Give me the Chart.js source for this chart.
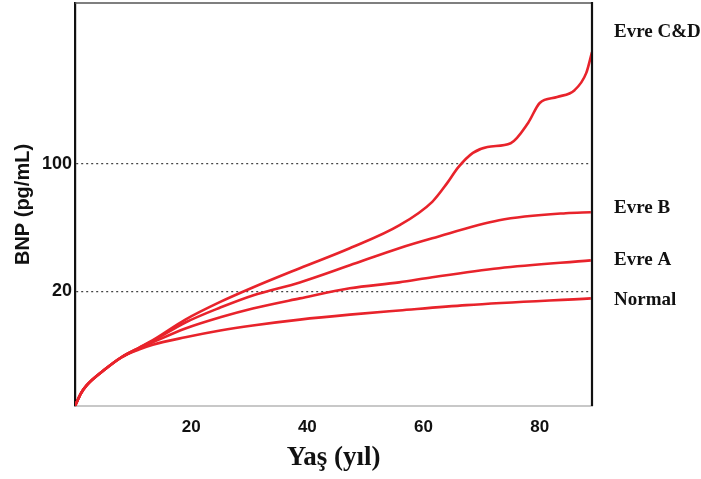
<!DOCTYPE html>
<html>
<head>
<meta charset="utf-8">
<title>BNP - Yaş</title>
<script src="https://cdn.jsdelivr.net/npm/chart.js@4/dist/chart.umd.min.js"></script>
<style>
    html, body { margin: 0; padding: 0; background: #fff; }
    #wrap { width: 701px; height: 479px; position: relative; }
</style>
</head>
<body>
<div id="wrap"><canvas id="bnpChart"></canvas></div>
<script>
// values (age in years, BNP in pg/mL, log axis)
var seriesNames = ['Normal', 'Evre A', 'Evre B', 'Evre C&D'];

var ageNormal = [0, 1, 2, 5, 8, 11, 13.4, 19, 25, 30.6, 38.7, 47.3, 55.8, 67.4, 88.8];
var bnpNormal = [4.7, 5.5, 6.1, 7.4, 8.7, 9.6, 10.2, 11.2, 12.2, 13.0, 14.0, 14.9, 15.7, 16.8, 18.3];

var ageA = [0, 1, 2, 5, 8, 11, 13.4, 19, 25, 30.6, 38.7, 47.3, 55.8, 61.5, 73, 88.8];
var bnpA = [4.7, 5.5, 6.1, 7.4, 8.7, 9.7, 10.5, 12.5, 14.4, 16.1, 18.3, 20.8, 22.4, 23.9, 26.8, 29.6];

var ageB = [0, 1, 2, 5, 8, 11, 13.4, 19, 25, 30.6, 38.7, 47.3, 55.8, 61.5, 73, 84.5, 88.8];
var bnpB = [4.7, 5.5, 6.1, 7.4, 8.7, 9.8, 10.7, 13.5, 16.3, 19.0, 22.4, 27.8, 34.5, 39.1, 49.1, 53.7, 54.3];

var ageCD = [0, 1, 2, 5, 8, 11, 13.4, 19, 25, 30.6, 38.7, 47.3, 55.8, 61.5, 64, 66, 68.5, 71, 75, 78, 80, 83, 86, 88, 89];
var bnpCD = [4.7, 5.5, 6.1, 7.4, 8.7, 9.8, 10.8, 14.0, 17.5, 21.0, 26.8, 34.5, 46, 62, 78, 96, 115, 124, 130, 168, 216, 233, 254, 315, 411];

var xTicks = [20, 40, 60, 80];
var yTicks = [20, 100];

function toPoints(ages, vals) {
    return ages.map(function (a, i) { return { x: a, y: vals[i] }; });
}

var lineRed = '#e8232b';

function makeSet(name, ages, vals) {
    return {
        label: name,
        data: toPoints(ages, vals),
        borderColor: lineRed,
        backgroundColor: lineRed,
        borderWidth: 2.6,
        pointRadius: 0,
        cubicInterpolationMode: 'monotone',
        fill: false
    };
}

// right and top frame of the plot
var frame = {
    id: 'frame',
    afterDraw: function (chart) {
        var ctx = chart.ctx, a = chart.chartArea;
        ctx.save();
        ctx.strokeStyle = '#555';
        ctx.lineWidth = 1.5;
        ctx.beginPath();
        ctx.moveTo(a.left, a.top);
        ctx.lineTo(a.right, a.top);
        ctx.stroke();
        ctx.strokeStyle = '#111';
        ctx.lineWidth = 2.2;
        ctx.beginPath();
        ctx.moveTo(a.right, a.top - 1);
        ctx.lineTo(a.right, a.bottom);
        ctx.stroke();
        ctx.restore();
    }
};

// names written to the right of each curve's end
var endLabels = {
    id: 'endLabels',
    afterDraw: function (chart) {
        var ctx = chart.ctx, a = chart.chartArea;
        var yScale = chart.scales.y;
        var shift = { 'Normal': 2, 'Evre A': 0, 'Evre B': -4, 'Evre C&D': -20 };
        ctx.save();
        ctx.font = 'bold 19px "Liberation Serif", "DejaVu Serif", serif';
        ctx.fillStyle = '#111';
        ctx.textAlign = 'left';
        ctx.textBaseline = 'middle';
        chart.data.datasets.forEach(function (ds) {
            var last = ds.data[ds.data.length - 1];
            var y = yScale.getPixelForValue(last.y) + shift[ds.label];
            ctx.fillText(ds.label, a.right + 22, y);
        });
        ctx.restore();
    }
};

var ctx = document.getElementById('bnpChart').getContext('2d');
var bnpChart = new Chart(ctx, {
    type: 'line',
    data: {
        datasets: [
            makeSet(seriesNames[0], ageNormal, bnpNormal),
            makeSet(seriesNames[1], ageA, bnpA),
            makeSet(seriesNames[2], ageB, bnpB),
            makeSet(seriesNames[3], ageCD, bnpCD)
        ]
    },
    options: {
        responsive: true,
        maintainAspectRatio: false,
        animation: false,
        layout: { padding: { top: 3, right: 109, left: 0, bottom: 0 } },
        plugins: {
            legend: { display: false },
            tooltip: { enabled: false }
        },
        scales: {
            x: {
                type: 'linear',
                min: 0,
                max: 89,
                afterBuildTicks: function (scale) {
                    scale.ticks = xTicks.map(function (v) { return { value: v }; });
                },
                afterFit: function (scale) {
                    scale.height = 73;
                    scale.paddingLeft = 0;
                    scale.paddingRight = 0;
                },
                grid: { display: false, drawTicks: false },
                border: { display: true, color: '#c8c8c8', width: 2 },
                ticks: {
                    padding: 11,
                    color: '#111',
                    font: { family: '"Liberation Sans", Arial, sans-serif', size: 17, weight: 'bold' },
                    maxRotation: 0
                },
                title: {
                    display: true,
                    text: 'Yaş (yıl)',
                    color: '#111',
                    padding: { top: 0, bottom: 5 },
                    font: { family: '"Liberation Serif", "DejaVu Serif", serif', size: 27, weight: 'bold' }
                }
            },
            y: {
                type: 'logarithmic',
                min: 4.7,
                max: 764,
                afterBuildTicks: function (scale) {
                    scale.ticks = yTicks.map(function (v) { return { value: v }; });
                },
                afterFit: function (scale) {
                    scale.width = 75;
                    scale.paddingTop = 0;
                    scale.paddingBottom = 0;
                },
                grid: {
                    display: true,
                    drawTicks: false,
                    color: '#444',
                    lineWidth: 1.3
                },
                // in v4 border.dash styles the grid lines, so this gives the dotted guides
                border: { display: true, color: '#111', width: 2.2, dash: [2, 3] },
                ticks: {
                    padding: 3,
                    color: '#111',
                    font: { family: '"Liberation Sans", Arial, sans-serif', size: 18, weight: 'bold' },
                    callback: function (v) { return String(v); }
                },
                title: {
                    display: true,
                    text: 'BNP (pg/mL)',
                    color: '#111',
                    padding: { top: 11, bottom: 0 },
                    font: { family: '"Liberation Sans", Arial, sans-serif', size: 20, weight: 'bold' }
                }
            }
        }
    },
    plugins: [frame, endLabels]
});
</script>
</body>
</html>
